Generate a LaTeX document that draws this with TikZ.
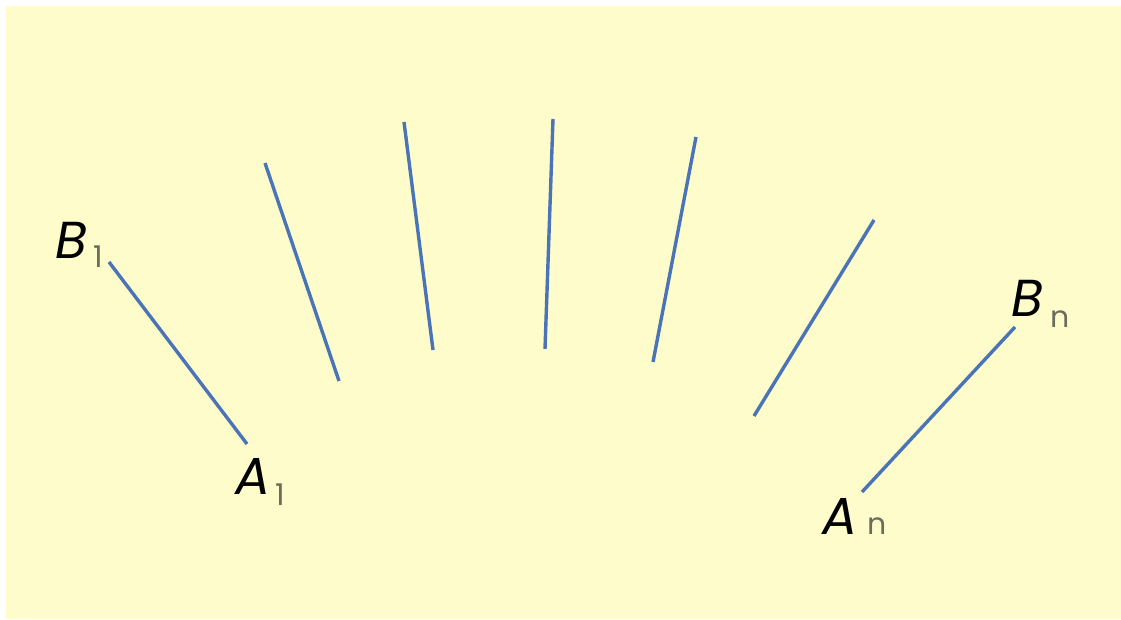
\documentclass[tikz,border=0pt]{standalone}
\usepackage{fontspec}
\setmainfont{Poppins}
\definecolor{paper}{HTML}{FFFCCB}
\definecolor{rod}{HTML}{4A74B8}
\definecolor{subgray}{HTML}{6B6B5E}
\usetikzlibrary{positioning}

\begin{document}
\begin{tikzpicture}[x=1pt, y=-1pt,
  rod/.style={draw=rod, line width=3.4pt},
  lbl/.style={inner sep=0pt, anchor=base west, font=\fontsize{52}{52}\selectfont\itshape},
  sub/.style={inner sep=0pt, anchor=base west, font=\fontsize{30}{30}\selectfont, text=subgray},
]
\useasboundingbox (0,0) rectangle (1121,619);
\fill[white] (0,0) rectangle (1121,619);
\fill[paper] (6,6) rectangle (1121,619);

% end points of the rods
\coordinate (a1) at (247,444);  \coordinate (b1) at (109,262);
\coordinate (a2) at (339,381);  \coordinate (b2) at (265,163);
\coordinate (a3) at (433,350);  \coordinate (b3) at (404,122);
\coordinate (a4) at (545,349);  \coordinate (b4) at (553,119);
\coordinate (a5) at (653,362);  \coordinate (b5) at (696,137);
\coordinate (a6) at (754,416);  \coordinate (b6) at (874,220);
\coordinate (a7) at (862,492);  \coordinate (b7) at (1015,327);

\foreach \i in {1,...,7}
  \draw[rod] (a\i) -- (b\i);

% labels
\node[lbl] (B1) at (55,258) {B};
\node[sub] (B1s) at (93,267) {1};
\node[lbl] (A1) at (235,494) {A};
\node[sub] (A1s) at (275,505) {1};
\node[lbl] (Bn) at (1011,316) {B};
\node[sub] (Bns) at (1050,327) {n};
\node[lbl] (An) at (822,534) {A};
\node[sub] (Ans) at (867,534) {n};
\end{tikzpicture}
\end{document}
